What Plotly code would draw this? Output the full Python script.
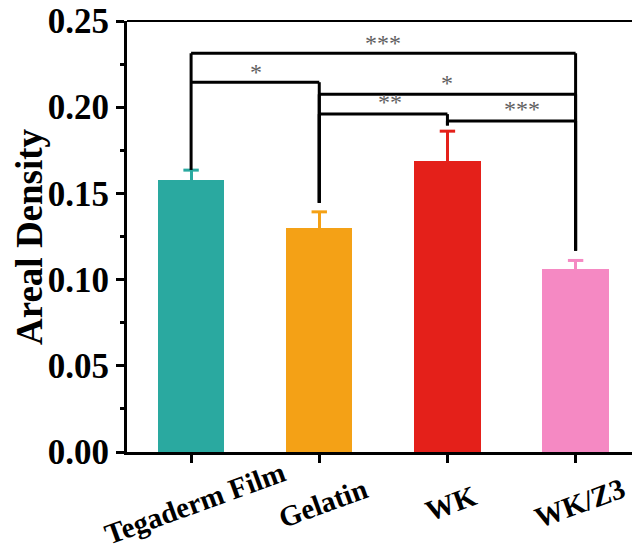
import plotly.graph_objects as go

# ---- data ----
categories = ["Tegaderm Film", "Gelatin", "WK", "WK/Z3"]
areal_density = [0.1575, 0.1300, 0.1687, 0.1064]
err_upper = [0.0060, 0.0093, 0.0174, 0.0047]
bar_colors = ["#2AA9A0", "#F4A116", "#E4201A", "#F589C3"]

# significance brackets: (left index, right index, bar height, left leg bottom, right leg bottom)
bracket_left = [0, 0, 1, 1, 2]
bracket_right = [3, 1, 3, 2, 3]
bracket_height = [0.2313, 0.2145, 0.2075, 0.1960, 0.1920]
bracket_left_bottom = [0.1636, 0.2145, 0.1445, 0.1445, 0.1894]
bracket_right_bottom = [0.1168, 0.1445, 0.1168, 0.1894, 0.1168]
sig_labels = ["***", "*", "*", "**", "***"]
sig_label_x = [1.5, 0.51, 2.0, 1.55, 2.58]
sig_label_y = [0.2375, 0.2205, 0.2143, 0.2031, 0.1988]

y_ticks = [0.00, 0.05, 0.10, 0.15, 0.20, 0.25]

FONT = "Liberation Serif"

fig = go.Figure()
for i, c in enumerate(categories):
    fig.add_trace(go.Bar(
        x=[i], y=[areal_density[i]], width=0.517,
        marker=dict(color=bar_colors[i], line=dict(width=0)),
        error_y=dict(type="data", symmetric=False, array=[err_upper[i]],
                     arrayminus=[0], thickness=3, width=0, color=bar_colors[i]),
        showlegend=False,
    ))
    # error bar cap
    fig.add_trace(go.Scatter(
        x=[i], y=[areal_density[i] + err_upper[i]], mode="markers",
        marker=dict(symbol="line-ew-open", size=11, color=bar_colors[i],
                    line=dict(width=3, color=bar_colors[i])),
        showlegend=False, hoverinfo="skip",
    ))

shapes = []
line_style = dict(color="black", width=3)
for l, r, h, lb, rb in zip(bracket_left, bracket_right, bracket_height,
                           bracket_left_bottom, bracket_right_bottom):
    shapes.append(dict(type="line", xref="x", yref="y", x0=l, x1=r, y0=h, y1=h, line=line_style))
    if lb < h:
        shapes.append(dict(type="line", xref="x", yref="y", x0=l, x1=l, y0=lb, y1=h, line=line_style))
    if rb < h:
        shapes.append(dict(type="line", xref="x", yref="y", x0=r, x1=r, y0=rb, y1=h, line=line_style))
# top frame line
shapes.append(dict(type="line", xref="paper", yref="paper", x0=0, x1=1, y0=1, y1=1,
                   line=dict(color="black", width=2)))

annotations = []
for t, x, y in zip(sig_labels, sig_label_x, sig_label_y):
    annotations.append(dict(text=t, x=x, y=y, xref="x", yref="y", showarrow=False,
                            xanchor="center", yanchor="middle",
                            font=dict(family=FONT, size=24, color="#606060")))
for i, c in enumerate(categories):
    annotations.append(dict(text="<b>%s</b>" % c, x=i + 0.03, y=-0.118, xref="x", yref="paper",
                            showarrow=False, textangle=-20, xanchor="center", yanchor="middle",
                            font=dict(family=FONT, size=29, color="black")))
annotations.append(dict(text="<b>Areal Density</b>", x=-0.193, y=0.5, xref="paper", yref="paper",
                        showarrow=False, textangle=-90, xanchor="center", yanchor="middle",
                        font=dict(family=FONT, size=37, color="black")))

fig.update_layout(
    width=632, height=552,
    margin=dict(l=127, r=0, t=21, b=100),
    paper_bgcolor="white", plot_bgcolor="white",
    bargap=0,
    shapes=shapes,
    annotations=annotations,
    xaxis=dict(range=[-0.5, 3.44], tickmode="array", tickvals=list(range(len(categories))),
               ticktext=[""] * len(categories), showticklabels=False,
               showline=True, linecolor="black", linewidth=3,
               ticks="outside", ticklen=8, tickwidth=3, tickcolor="black",
               showgrid=False, zeroline=False),
    yaxis=dict(range=[0, 0.25], tickmode="array", tickvals=y_ticks,
               ticktext=["%.2f" % v for v in y_ticks],
               showline=True, linecolor="black", linewidth=3,
               ticks="outside", ticklen=8, tickwidth=3, tickcolor="black",
               minor=dict(dtick=0.025, ticks="outside", ticklen=4, tickwidth=3, tickcolor="black"),
               tickfont=dict(family=FONT, size=35, color="black", weight="bold"),
               showgrid=False, zeroline=False),
)

fig.write_html("out.html")
